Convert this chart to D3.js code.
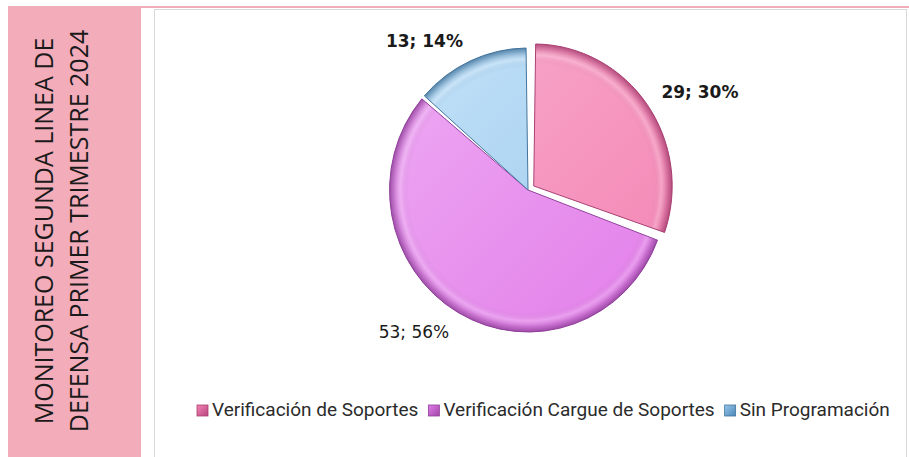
<!DOCTYPE html>
<html>
<head>
<meta charset="utf-8">
<script src="https://cdn.jsdelivr.net/npm/d3@7"></script>
<style>
  body { margin: 0; background: #fff; }
</style>
</head>
<body>
<div id="container"></div>
<script>
// chart data
const categories = ["Verificación de Soportes", "Verificación Cargue de Soportes", "Sin Programación"];
const values = [29, 53, 13];
const percents = ["30%", "56%", "14%"];
const titleLines = ["MONITOREO SEGUNDA LINEA DE", "DEFENSA PRIMER TRIMESTRE 2024"];

// slice colours: light, base, dark edge, legend marker
const palette = [
  { light: "#f9abcc", base: "#f384b3", edge: "#a83f72", mark: "#b8457f" },
  { light: "#eeaaf3", base: "#e27de9", edge: "#8f3f99", mark: "#a046a8" },
  { light: "#c4e2f8", base: "#98c8ec", edge: "#41739b", mark: "#4a86b8" }
];

const W = 909, H = 457;
const svg = d3.select("#container").append("svg")
  .attr("width", W).attr("height", H);
const defs = svg.append("defs");

// pink title panel + frame
svg.append("rect").attr("x", 8).attr("y", 6).attr("width", 133).attr("height", H - 6).attr("fill", "#f2acba");
svg.append("rect").attr("x", 141).attr("y", 6).attr("width", W - 141).attr("height", 2).attr("fill", "#f2acba");
svg.append("rect").attr("x", 154.5).attr("y", 9.5).attr("width", 752).attr("height", 470)
  .attr("fill", "none").attr("stroke", "#d9d9d9");

// vertical title
const title = svg.append("g").attr("transform", "translate(0,231) rotate(-90)");
titleLines.forEach((t, i) => {
  title.append("text")
    .attr("x", 0).attr("y", 53 + i * 35)
    .attr("text-anchor", "middle")
    .style("font-family", "'Open Sans', sans-serif")
    .style("font-size", "25px")
    .style("fill", "#1a1a1a")
    .text(t);
});

// pie
const cx = 528, cy = 190, r = 142;
const data = categories.map((c, i) => ({ name: c, value: values[i], pct: percents[i], i }));
const pie = d3.pie().sort(null).value(d => d.value);
const arcs = pie(data);
const arc = d3.arc().innerRadius(0).outerRadius(r).padAngle(0.028);
const explode = [7, 0, 0];

palette.forEach((p, i) => {
  const lg = defs.append("linearGradient").attr("id", "fill" + i)
    .attr("gradientUnits", "userSpaceOnUse")
    .attr("x1", -r).attr("y1", -r).attr("x2", r).attr("y2", r);
  lg.append("stop").attr("offset", "0%").attr("stop-color", p.light);
  lg.append("stop").attr("offset", "100%").attr("stop-color", p.base);

  const rg = defs.append("radialGradient").attr("id", "bevel" + i)
    .attr("gradientUnits", "userSpaceOnUse")
    .attr("cx", 0).attr("cy", 0).attr("r", r);
  rg.append("stop").attr("offset", "0%").attr("stop-color", p.edge).attr("stop-opacity", 0);
  rg.append("stop").attr("offset", "86%").attr("stop-color", p.edge).attr("stop-opacity", 0);
  rg.append("stop").attr("offset", "92%").attr("stop-color", "#fff").attr("stop-opacity", 0.2);
  rg.append("stop").attr("offset", "96%").attr("stop-color", p.edge).attr("stop-opacity", 0.3);
  rg.append("stop").attr("offset", "100%").attr("stop-color", p.edge).attr("stop-opacity", 0.85);

  const mg = defs.append("linearGradient").attr("id", "mark" + i)
    .attr("x1", "0%").attr("y1", "0%").attr("x2", "100%").attr("y2", "100%");
  mg.append("stop").attr("offset", "0%").attr("stop-color", p.base);
  mg.append("stop").attr("offset", "100%").attr("stop-color", p.mark);
});

// slightly squeezed horizontally, as in the original picture
const slices = svg.append("g").selectAll("g").data(arcs).join("g")
  .attr("transform", d => {
    const a = (d.startAngle + d.endAngle) / 2;
    const e = explode[d.index];
    return `translate(${cx + e * Math.sin(a)},${cy - e * Math.cos(a)}) scale(0.975,1)`;
  });

slices.append("path").attr("d", arc)
  .attr("fill", d => `url(#fill${d.index})`);
slices.append("path").attr("d", arc)
  .attr("fill", d => `url(#bevel${d.index})`)
  .attr("stroke", d => palette[d.index].edge)
  .attr("stroke-width", 1);

// data labels
svg.append("g").selectAll("text").data(arcs).join("text")
  .each(function (d) {
    const a = (d.startAngle + d.endAngle) / 2;
    const e = explode[d.index];
    const rr = r + 14;
    const x = cx + (rr + e) * Math.sin(a);
    const y = cy - (rr + e) * Math.cos(a) - 8 * Math.cos(a) + 6;
    d3.select(this)
      .attr("x", x).attr("y", y)
      .attr("text-anchor", Math.sin(a) >= 0 ? "start" : "end");
  })
  .style("font-family", "'DejaVu Sans', sans-serif")
  .style("font-size", "17px")
  .style("font-weight", d => d.index === 1 ? "normal" : "bold")
  .style("fill", "#1a1a1a")
  .text(d => `${d.data.value}; ${d.data.pct}`);

// legend
const legend = svg.append("g").attr("transform", "translate(197,416)");
let lx = 0;
data.forEach((d, i) => {
  const item = legend.append("g").attr("transform", `translate(${lx},0)`);
  item.append("rect").attr("x", 0).attr("y", -11).attr("width", 11).attr("height", 11)
    .attr("fill", `url(#mark${i})`).attr("stroke", palette[i].edge).attr("stroke-width", 0.8);
  const t = item.append("text").attr("x", 15).attr("y", 0)
    .style("font-family", "Roboto, sans-serif")
    .style("font-size", "19px")
    .style("fill", "#2b2b2b")
    .text(d.name);
  lx += 15 + t.node().getComputedTextLength() + 10;
});
</script>
</body>
</html>
